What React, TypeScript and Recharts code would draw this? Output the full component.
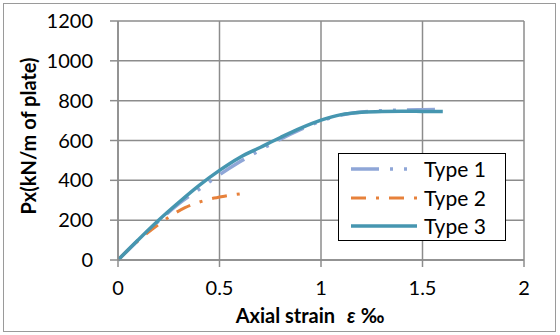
import React from "react";
import {
  LineChart, Line, XAxis, YAxis, CartesianGrid, Label,
} from "recharts";

// strain (‰) sample points per series
const type1X = [0, 0.1, 0.2, 0.3, 0.4, 0.5, 0.6, 0.7, 0.8, 0.9, 1.0, 1.1, 1.2, 1.3, 1.4, 1.5, 1.6];
const type1Y = [0, 100, 195, 283, 355, 428, 493, 552, 607, 656, 698, 728, 743, 750, 753, 755, 756];

const type2X = [0, 0.1, 0.17, 0.25, 0.33, 0.43, 0.53, 0.63];
const type2Y = [0, 98, 155, 215, 263, 300, 321, 336];

const type3X = [0, 0.1, 0.2, 0.3, 0.4, 0.5, 0.6, 0.7, 0.8, 0.9, 1.0, 1.1, 1.2, 1.3, 1.4, 1.5, 1.6];
const type3Y = [0, 102, 200, 290, 375, 450, 515, 565, 615, 662, 702, 730, 742, 746, 747, 746, 745];

const xTicks = [0, 0.5, 1, 1.5, 2];
const yTicks = [0, 200, 400, 600, 800, 1000, 1200];

const toPoints = (xs: number[], ys: number[]) => xs.map((x, i) => ({ x, y: ys[i] }));

const series = [
  { name: "Type 1", data: toPoints(type1X, type1Y), color: "#8fa6d7", dash: "28 11 3 11 3 11", width: 3.5 },
  { name: "Type 2", data: toPoints(type2X, type2Y), color: "#e7813b", dash: "15 10 3 10", width: 3 },
  { name: "Type 3", data: toPoints(type3X, type3Y), color: "#4696b0", dash: undefined, width: 3.5 },
];

const FONT = "Lato, 'Open Sans', sans-serif";

function LegendBox() {
  return (
    <div style={{
      position: "absolute", left: 338, top: 153, width: 168, height: 88,
      border: "1.5px solid #000", background: "#fff", boxSizing: "border-box", paddingTop: 1,
    }}>
      {series.map((s) => (
        <div key={s.name} style={{ display: "flex", alignItems: "center", height: 28.5, paddingLeft: 11 }}>
          <svg width={68} height={10}>
            <line x1={1} y1={5} x2={67} y2={5} stroke={s.color} strokeWidth={s.width}
              strokeDasharray={s.dash} />
          </svg>
          <span style={{ fontFamily: FONT, fontSize: 21, lineHeight: "24px", marginLeft: 6, color: "#000" }}>{s.name}</span>
        </div>
      ))}
    </div>
  );
}

export default function App() {
  return (
    <div style={{ position: "absolute", left: 0, top: 0, width: 560, height: 335, background: "#fff" }}>
      <div style={{ position: "absolute", left: 3, top: 3, width: 551, height: 327, border: "1.5px solid #9a9a9a" }} />
      <LineChart width={560} height={335} margin={{ top: 21, right: 36, left: 0, bottom: 0 }}>
        <CartesianGrid stroke="#8c8c8c" strokeWidth={1.5} />
        <XAxis
          type="number" dataKey="x" domain={[0, 2]} ticks={xTicks} allowDataOverflow interval={0}
          height={75} tickSize={7} tickMargin={14}
          stroke="#8c8c8c" strokeWidth={1.5}
          tick={{ fill: "#000", fontSize: 20, fontFamily: FONT }}
        >
          <Label
            content={() => (
              <text x={310} y={323} textAnchor="middle"
                fontFamily={FONT} fontSize={20} fontWeight="bold" fill="#000">
                <tspan>Axial strain</tspan>
                <tspan dx={12} fontStyle="italic">ε</tspan>
                <tspan dx={5}>‰</tspan>
              </text>
            )}
          />
        </XAxis>
        <YAxis
          type="number" domain={[0, 1200]} ticks={yTicks} width={118} interval={0}
          tickSize={8} tickMargin={17}
          stroke="#8c8c8c" strokeWidth={1.5}
          tick={{ fill: "#000", fontSize: 20, fontFamily: FONT }}
        >
          <Label
            content={() => (
              <text x={36} y={136} transform="rotate(-90 36 136)" textAnchor="middle"
                fontFamily={FONT} fontSize={20} fontWeight="bold" fill="#000">
                Px(kN/m of plate)
              </text>
            )}
          />
        </YAxis>
        {series.map((s) => (
          <Line
            key={s.name} data={s.data} dataKey="y" name={s.name} type="monotone"
            stroke={s.color} strokeWidth={s.width} strokeDasharray={s.dash}
            dot={false} isAnimationActive={false}
          />
        ))}
      </LineChart>
      <LegendBox />
    </div>
  );
}
